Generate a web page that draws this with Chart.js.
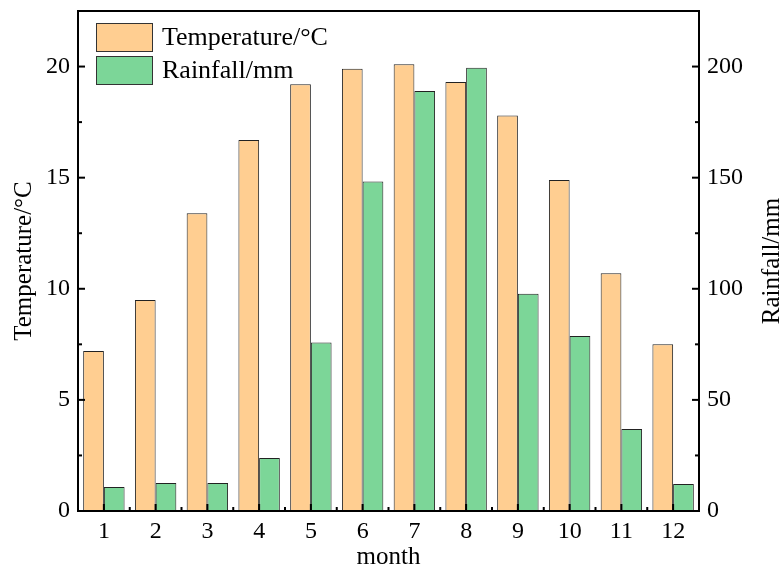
<!DOCTYPE html>
<html>
<head>
<meta charset="utf-8">
<script src="https://cdn.jsdelivr.net/npm/chart.js@4.4.0/dist/chart.umd.min.js"></script>
<style>
  html, body { margin: 0; padding: 0; background: #fff; }
  #wrap { width: 784px; height: 572px; position: relative; }
</style>
</head>
<body>
<div id="wrap"><canvas id="c" width="784" height="572"></canvas></div>
<script>
// ---- data ----
const months = ['1','2','3','4','5','6','7','8','9','10','11','12'];
const temperature = [7.2, 9.5, 13.4, 16.7, 19.2, 19.9, 20.1, 19.3, 17.8, 14.9, 10.7, 7.5];
const rainfall = [10.8, 12.6, 12.6, 23.9, 75.8, 148.3, 189, 199.5, 97.8, 78.7, 36.9, 12.2];
const tempAxis = { min: 0, max: 22.5, step: 5 };
const rainAxis = { min: 0, max: 225, step: 50 };
const seriesLabels = ['Temperature/\u00B0C', 'Rainfall/mm'];
const axisTitles = { x: 'month', y: 'Temperature/\u00B0C', y1: 'Rainfall/mm' };

const FONT = '"Liberation Serif", "Times New Roman", serif';
const ORANGE = 'rgb(255,206,145)';
const GREEN = 'rgb(124,214,152)';

const frameTicks = {
  id: 'frameTicks',
  afterDatasetsDraw(chart) {
    const { ctx, chartArea: a, scales } = chart;
    ctx.save();
    ctx.strokeStyle = '#000';
    ctx.lineWidth = 2;
    const line = (x1, y1, x2, y2) => { ctx.beginPath(); ctx.moveTo(x1, y1); ctx.lineTo(x2, y2); ctx.stroke(); };
    const yl = scales.y;
    for (let v = tempAxis.min; v <= tempAxis.max + 1e-9; v += tempAxis.step / 2) {
      const p = yl.getPixelForValue(v);
      const major = Math.abs(v / tempAxis.step - Math.round(v / tempAxis.step)) < 1e-9;
      line(a.left, p, a.left + (major ? 7 : 4), p);
    }
    const yr = scales.y1;
    for (let v = rainAxis.min; v <= rainAxis.max + 1e-9; v += rainAxis.step / 2) {
      const p = yr.getPixelForValue(v);
      const major = Math.abs(v / rainAxis.step - Math.round(v / rainAxis.step)) < 1e-9;
      line(a.right, p, a.right - (major ? 7 : 4), p);
    }
    const xs = scales.x;
    for (let i = 0; i < months.length; i++) {
      const p = xs.getPixelForValue(i);
      line(p, a.bottom, p, a.bottom - 7);
      if (i < months.length - 1) {
        const q = (p + xs.getPixelForValue(i + 1)) / 2;
        line(q, a.bottom, q, a.bottom - 4);
      }
    }
    ctx.strokeRect(a.left, a.top, a.right - a.left, a.bottom - a.top);
    ctx.restore();
  },
  afterDraw(chart) {
    const { ctx, chartArea: a } = chart;
    ctx.save();
    ctx.fillStyle = '#000';
    ctx.font = '25px ' + FONT;
    ctx.textAlign = 'center';
    ctx.textBaseline = 'middle';
    ctx.translate(772, (a.top + a.bottom) / 2);
    ctx.rotate(-Math.PI / 2);
    ctx.fillText(axisTitles.y1, 0, 0);
    ctx.restore();

    ctx.save();
    const bx = a.left + 18, bw = 57, bh = 29;
    const ys = [a.top + 12, a.top + 45];
    chart.data.datasets.forEach((ds, i) => {
      ctx.fillStyle = ds.backgroundColor;
      ctx.fillRect(bx, ys[i], bw, bh);
      ctx.strokeStyle = '#333';
      ctx.lineWidth = 1;
      ctx.strokeRect(bx + 0.5, ys[i] + 0.5, bw - 1, bh - 1);
      ctx.fillStyle = '#000';
      ctx.font = '26px ' + FONT;
      ctx.textBaseline = 'middle';
      ctx.textAlign = 'left';
      ctx.fillText(ds.label, bx + bw + 9, ys[i] + bh / 2 + 1);
    });
    ctx.restore();
  }
};

new Chart(document.getElementById('c'), {
  type: 'bar',
  data: {
    labels: months,
    datasets: [
      { label: seriesLabels[0], data: temperature, yAxisID: 'y', backgroundColor: ORANGE, borderColor: '#222', borderWidth: 1 },
      { label: seriesLabels[1], data: rainfall, yAxisID: 'y1', backgroundColor: GREEN, borderColor: '#222', borderWidth: 1 }
    ]
  },
  options: {
    responsive: false,
    animation: false,
    devicePixelRatio: 1,
    layout: { padding: { top: 11, left: 0, right: 0, bottom: 0 } },
    plugins: { legend: { display: false }, tooltip: { enabled: false } },
    datasets: { bar: { categoryPercentage: 0.8, barPercentage: 1.0 } },
    scales: {
      x: {
        grid: { display: false, drawTicks: false },
        border: { display: false },
        ticks: { color: '#000', font: { family: FONT, size: 24 }, padding: 6, maxRotation: 0 },
        title: { display: true, text: axisTitles.x, color: '#000', font: { family: FONT, size: 25, lineHeight: 1 }, padding: { top: 0, bottom: 2 } },
        afterFit(s) { s.height = 61; s.paddingLeft = 0; s.paddingRight = 0; }
      },
      y: {
        position: 'left',
        min: tempAxis.min, max: tempAxis.max,
        grid: { display: false, drawTicks: false },
        border: { display: false },
        ticks: { stepSize: tempAxis.step, includeBounds: false, color: '#000', font: { family: FONT, size: 24 }, padding: 8 },
        title: { display: true, text: axisTitles.y, color: '#000', font: { family: FONT, size: 25, lineHeight: 1 }, padding: { top: 12, bottom: 0 } },
        afterFit(s) { s.width = 78; s.paddingTop = 0; s.paddingBottom = 0; }
      },
      y1: {
        position: 'right',
        min: rainAxis.min, max: rainAxis.max,
        grid: { display: false, drawTicks: false, drawOnChartArea: false },
        border: { display: false },
        ticks: { stepSize: rainAxis.step, includeBounds: false, color: '#000', font: { family: FONT, size: 24 }, padding: 8 },
        title: { display: false },
        afterFit(s) { s.width = 85; s.paddingTop = 0; s.paddingBottom = 0; }
      }
    }
  },
  plugins: [frameTicks]
});
</script>
</body>
</html>
